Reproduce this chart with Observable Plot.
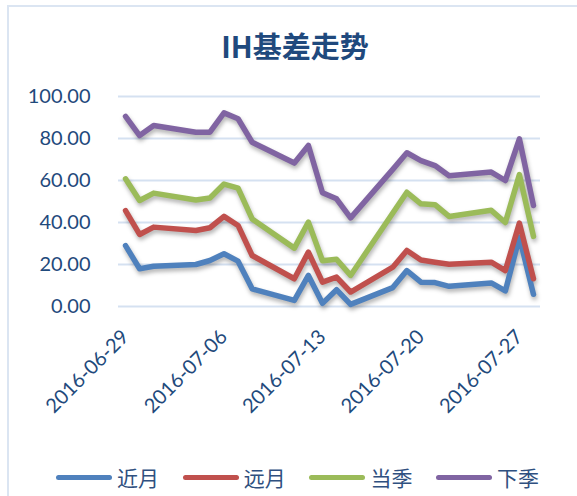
<!DOCTYPE html>
<html>
<head>
<meta charset="utf-8">
<script src="https://cdn.jsdelivr.net/npm/d3@7"></script>
<script src="https://cdn.jsdelivr.net/npm/@observablehq/plot@0.6"></script>
<style>
  html, body { margin: 0; padding: 0; background: #fff; }
  #page { position: relative; width: 577px; height: 496px; overflow: hidden; background: #fff; }
  #frame { position: absolute; left: 7px; top: 5px; width: 640px; height: 560px;
           border-left: 2px solid #dbe5f2; border-top: 2px solid #dbe5f2; box-sizing: border-box; }
  #title { position: absolute; left: 0; top: 27px; width: 590px; text-align: center;
           font-family: "Noto Sans CJK SC", sans-serif; font-weight: bold; font-size: 29px;
           color: #1f497d; line-height: 36px; }
  #chart { position: absolute; left: 0; top: 80px; }
  .leg { position: absolute; top: 462px; display: flex; align-items: center;
         font-family: "Noto Sans CJK SC", sans-serif; font-size: 21px; color: #2f5080; line-height: 30px; }
  .sw { display: inline-block; width: 56px; height: 5px; border-radius: 3px; margin-right: 5px; }
</style>
</head>
<body>
<div id="page">
  <div id="frame"></div>
  <div id="title">IH基差走势</div>
  <div id="chart"></div>
  <div id="legend"></div>
</div>
<script>
// ---- data ----
const dates = ["2016-06-29","2016-06-30","2016-07-01","2016-07-04","2016-07-05","2016-07-06","2016-07-07","2016-07-08",
  "2016-07-11","2016-07-12","2016-07-13","2016-07-14","2016-07-15","2016-07-18","2016-07-19","2016-07-20",
  "2016-07-21","2016-07-22","2016-07-25","2016-07-26","2016-07-27","2016-07-28"];
const seriesNames = ["近月", "远月", "当季", "下季"];
const nearMonth = [29.0, 18.0, 19.2, 20.0, 21.9, 25.1, 21.6, 8.4, 2.9, 14.8, 1.5, 8.0, 1.0, 9.0, 17.1, 11.6, 11.4, 9.6, 11.2, 7.4, 33.0, 5.8];
const farMonth  = [45.7, 34.3, 37.8, 36.2, 37.5, 42.9, 38.6, 24.3, 13.2, 25.9, 11.6, 14.0, 6.9, 18.7, 26.7, 22.1, 21.1, 20.1, 21.1, 17.1, 39.7, 13.2];
const curQuarter = [60.8, 50.5, 54.0, 50.7, 51.7, 58.3, 56.4, 41.7, 27.8, 40.2, 21.8, 22.5, 14.8, 44.5, 54.4, 48.9, 48.5, 42.9, 45.8, 40.0, 62.8, 33.4];
const nextQuarter = [90.5, 81.4, 86.2, 83.0, 83.0, 92.2, 89.4, 78.2, 68.3, 76.7, 54.2, 51.3, 42.2, 65.3, 73.2, 69.5, 67.1, 62.3, 64.0, 60.0, 79.8, 48.1];
const xTickLabels = ["2016-06-29", "2016-07-06", "2016-07-13", "2016-07-20", "2016-07-27"];
const yTicks = [0, 20, 40, 60, 80, 100];

// ---- styling ----
const palette = ["#4f81bd", "#c0504d", "#9bbb59", "#8064a2"];

const parse = d3.utcParse("%Y-%m-%d");
const valuesBySeries = [nearMonth, farMonth, curQuarter, nextQuarter];
const rows = [];
seriesNames.forEach((s, i) => {
  dates.forEach((d, j) => rows.push({series: s, date: parse(d), value: valuesBySeries[i][j]}));
});
const xTicks = xTickLabels.map(parse);
const dayMs = 86400000;
const xDomain = [new Date(parse(dates[0]).getTime() - dayMs / 2), new Date(parse(dates[dates.length - 1]).getTime() + dayMs / 2)];

const chart = Plot.plot({
  width: 577,
  height: 370,
  marginTop: 16,
  marginBottom: 144,
  marginLeft: 118,
  marginRight: 37,
  x: {type: "utc", domain: xDomain},
  y: {domain: [0, 100]},
  color: {domain: seriesNames, range: palette},
  style: {fontFamily: "Lato, sans-serif", fontSize: "20px", color: "#1f4a7c", background: "transparent", overflow: "visible"},
  marks: [
    Plot.gridY(yTicks, {stroke: "#d5e1f1", strokeOpacity: 1, strokeWidth: 2}),
    Plot.axisY(yTicks, {tickSize: 0, tickPadding: 28, tickFormat: d => d.toFixed(2), label: null}),
    Plot.axisX(xTicks, {tickSize: 0, tickPadding: 27, tickRotate: -45, tickFormat: d3.utcFormat("%Y-%m-%d"), label: null}),
    Plot.line(rows, {x: "date", y: "value", z: "series", stroke: "series", strokeWidth: 5.5,
                     strokeLinejoin: "round", strokeLinecap: "round"})
  ]
});
document.getElementById("chart").appendChild(chart);
chart.querySelectorAll('g[aria-label="line"]').forEach(g => {
  g.style.filter = "drop-shadow(1px 3px 2px rgba(0,0,0,0.3))";
});

// legend
const legend = document.getElementById("legend");
seriesNames.forEach((s, i) => {
  const item = document.createElement("div");
  item.className = "leg";
  item.style.left = (56 + i * 126.7) + "px";
  const sw = document.createElement("span");
  sw.className = "sw";
  sw.style.background = palette[i];
  const t = document.createElement("span");
  t.textContent = s;
  item.appendChild(sw);
  item.appendChild(t);
  legend.appendChild(item);
});
</script>
</body>
</html>
